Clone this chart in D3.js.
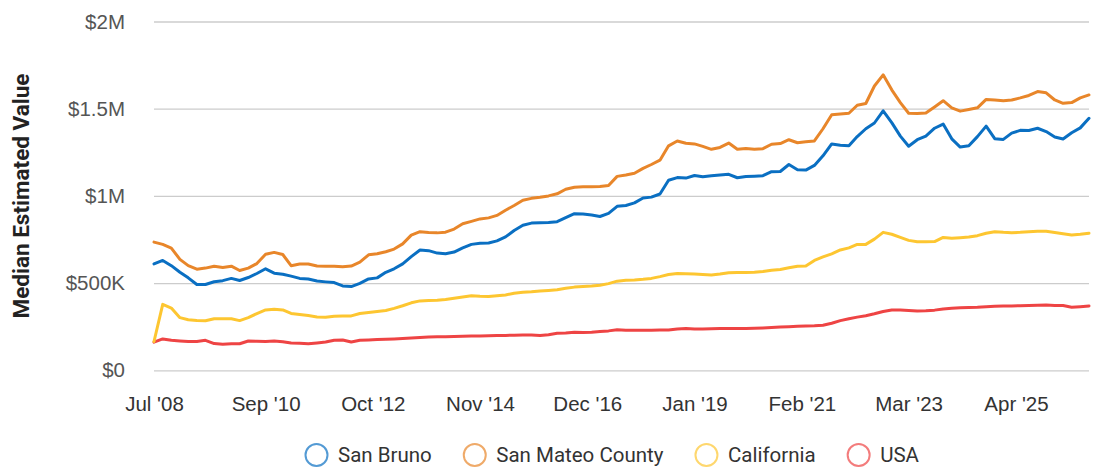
<!DOCTYPE html>
<html>
<head>
<meta charset="utf-8">
<script src="https://cdn.jsdelivr.net/npm/d3@7"></script>
<style>
  html, body { margin: 0; padding: 0; background: #fff; }
  svg { display: block; font-family: Roboto, "Noto Sans", sans-serif; }
</style>
</head>
<body>
<svg id="chart" width="1097" height="468"></svg>
<script>
// data: one point every 2 months starting Jul 2008 (values in $K)
var startMonth = '2008-07';
var sanBruno = [610,630,600,562,530,492,492,508,514,527,515,532,555,582,557,551,540,527,523,512,
  507,503,484,480,498,524,530,562,582,610,652,690,686,672,668,678,702,722,728,730,
  742,765,802,832,844,846,847,852,875,898,896,890,882,900,940,945,960,988,993,1011,
  1090,1105,1102,1117,1110,1115,1120,1124,1104,1111,1113,1116,1139,1140,1180,1150,1148,1175,1230,1298,
  1290,1288,1340,1385,1418,1488,1420,1343,1285,1322,1343,1388,1412,1327,1280,1287,1340,1400,1328,1324,
  1360,1376,1375,1388,1369,1338,1326,1362,1390,1445];
var sanMateo = [735,722,701,636,600,580,586,597,590,597,572,586,612,665,676,664,600,610,609,598,
  597,597,594,598,620,662,668,680,695,725,775,795,790,788,792,810,840,854,868,874,
  888,918,945,975,986,992,1000,1012,1038,1050,1052,1052,1054,1060,1112,1120,1130,1158,1180,1205,
  1287,1315,1302,1298,1284,1267,1278,1303,1267,1272,1268,1271,1296,1300,1322,1305,1310,1315,1385,1465,
  1470,1474,1520,1530,1630,1694,1608,1535,1474,1472,1475,1510,1546,1505,1486,1495,1505,1553,1550,1546,
  1550,1562,1576,1598,1591,1550,1531,1535,1562,1579];
var california = [165,378,357,302,290,286,284,296,296,296,285,302,325,346,350,346,326,320,314,306,
  304,310,312,312,326,332,337,343,355,370,387,398,400,402,406,413,420,427,424,423,
  427,432,442,447,450,455,458,462,470,477,481,484,488,497,511,516,518,522,527,537,
  549,555,553,552,550,547,552,559,561,561,562,566,574,578,588,597,598,630,650,668,
  690,702,722,722,752,791,780,762,745,737,737,738,762,757,760,764,772,786,795,791,
  789,791,795,798,797,790,783,776,780,786];
var usa = [161,180,172,168,165,165,172,153,149,152,152,168,166,165,168,164,156,155,152,157,
  162,172,174,162,172,174,176,178,180,183,185,188,191,192,193,194,195,196,197,198,
  199,200,201,202,202,200,204,212,214,218,217,218,222,226,233,229,229,230,230,231,
  231,237,240,237,237,238,239,240,240,240,241,243,245,248,250,252,254,255,258,270,
  285,296,305,313,324,337,346,346,343,340,341,345,352,356,358,360,361,364,367,369,
  369,370,372,373,374,372,371,362,365,369];
var seriesNames = ['San Bruno', 'San Mateo County', 'California', 'USA'];
var seriesColors = ['#0a6fc2', '#e8862a', '#fdc631', '#ee4444'];
var xTickLabels = ['2008-07', '2010-09', '2012-10', '2014-11', '2016-12', '2019-01', '2021-02', '2023-03', '2025-04'];
var yTickValues = [0, 500, 1000, 1500, 2000];

(function(){
var _svg = d3.select('#chart'),
  _left = 154, _right = 1089, _top = 21.5, _bottom = 370.3,
  parseMonth = d3.timeParse('%Y-%m'),
  _dates, _x, _y,
  buildScales = function(){
    var start = parseMonth(startMonth);
    _dates = sanBruno.map(function(d, i){ return d3.timeMonth.offset(start, i * 2); });
    _x = d3.scaleTime().domain(d3.extent(_dates)).range([_left, _right]);
    _y = d3.scaleLinear().domain([0, 2000]).range([_bottom, _top]);
  },
  fmtY = function(v){
    if(v === 0) return '$0';
    if(v >= 1000) return '$' + (v / 1000) + 'M';
    return '$' + v + 'K';
  },
  drawAxes = function(){
    var yAxis = d3.axisLeft(_y).tickValues(yTickValues).tickSize(-(_right - _left)).tickFormat(fmtY);
    var gy = _svg.append('g').attr('class', 'y axis')
      .attr('transform', 'translate(' + _left + ',0)')
      .call(yAxis);
    gy.select('.domain').remove();
    gy.selectAll('.tick line').attr('stroke', '#cccccc').attr('stroke-width', 1.3);
    gy.selectAll('.tick text').attr('fill', '#555').style('font-size', '20.5px').attr('x', -29);

    var xAxis = d3.axisBottom(_x)
      .tickValues(xTickLabels.map(parseMonth))
      .tickSize(0)
      .tickFormat(d3.timeFormat("%b '%y"));
    var gx = _svg.append('g').attr('class', 'x axis')
      .attr('transform', 'translate(0,' + _bottom + ')')
      .call(xAxis);
    gx.select('.domain').remove();
    gx.selectAll('.tick text').attr('fill', '#333').style('font-size', '20.5px').attr('y', 26).attr('dy', '0.71em');

    _svg.append('text')
      .attr('transform', 'translate(29,196) rotate(-90)')
      .attr('text-anchor', 'middle')
      .attr('fill', '#222')
      .style('font-size', '22.5px').style('font-weight', 'bold')
      .text('Median Estimated Value');
  },
  drawLines = function(){
    var all = [sanBruno, sanMateo, california, usa];
    var line = d3.line()
      .x(function(d, i){ return _x(_dates[i]); })
      .y(function(d){ return _y(d); });
    // draw back to front so blue ends up on top
    [3, 2, 1, 0].forEach(function(k){
      _svg.append('path')
        .datum(all[k])
        .attr('fill', 'none')
        .attr('stroke', seriesColors[k])
        .attr('stroke-width', 3)
        .attr('stroke-linejoin', 'round')
        .attr('stroke-linecap', 'round')
        .attr('d', line);
    });
  },
  drawLegend = function(){
    var g = _svg.append('g').attr('class', 'legend'),
        x = 316.5;
    seriesNames.forEach(function(name, i){
      g.append('circle')
        .attr('cx', x).attr('cy', 455).attr('r', 11)
        .attr('fill', 'none')
        .attr('stroke', seriesColors[i]).attr('stroke-opacity', 0.7)
        .attr('stroke-width', 2);
      var t = g.append('text')
        .attr('x', x + 21.5).attr('y', 455).attr('dy', '0.35em')
        .attr('fill', '#333').style('font-size', '20.5px')
        .text(name);
      x += 21.5 + t.node().getComputedTextLength() + 43;
    });
  };
buildScales();
drawAxes();
drawLines();
drawLegend();
})();
</script>
</body>
</html>
